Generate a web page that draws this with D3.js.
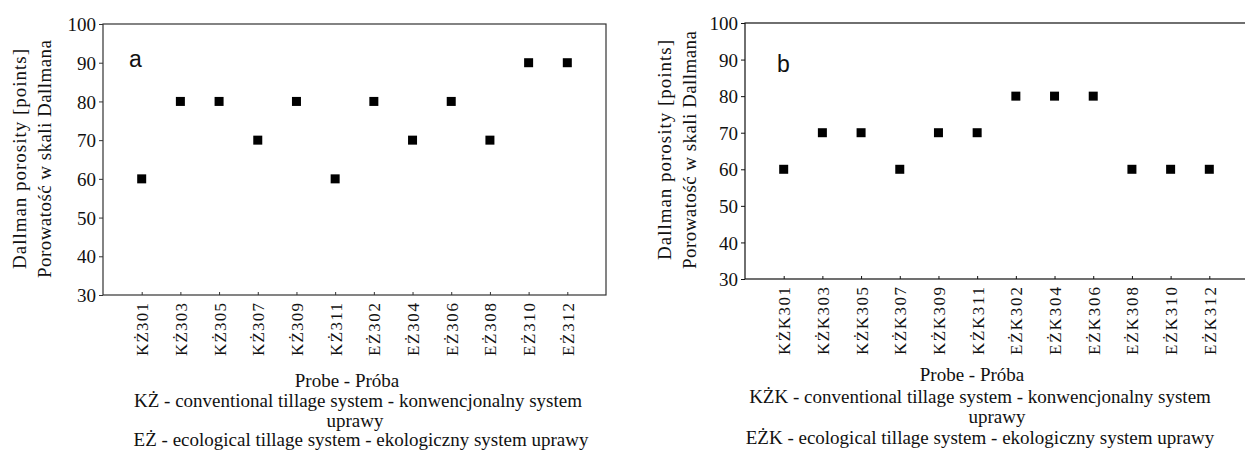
<!DOCTYPE html>
<html>
<head>
<meta charset="utf-8">
<script src="https://cdn.jsdelivr.net/npm/d3@7.9.0/dist/d3.min.js"></script>
<style>
  body { margin: 0; background: #fff; }
  svg { display: block; }
</style>
</head>
<body>
<svg id="chart" width="1245" height="464"></svg>
<script>
// samples for panel a and b
const samplesA = ['KŻ301', 'KŻ303', 'KŻ305', 'KŻ307', 'KŻ309', 'KŻ311', 'EŻ302', 'EŻ304', 'EŻ306', 'EŻ308', 'EŻ310', 'EŻ312'];
const valuesA = [60, 80, 80, 70, 80, 60, 80, 70, 80, 70, 90, 90];
const samplesB = ['KŻK301', 'KŻK303', 'KŻK305', 'KŻK307', 'KŻK309', 'KŻK311', 'EŻK302', 'EŻK304', 'EŻK306', 'EŻK308', 'EŻK310', 'EŻK312'];
const valuesB = [60, 70, 70, 60, 70, 70, 80, 80, 80, 60, 60, 60];
const yTicks = [30, 40, 50, 60, 70, 80, 90, 100];
const yTitle = ['Dallman porosity [points]', 'Porowatość w skali Dallmana'];
const captionA = ['Probe - Próba', 'KŻ - conventional tillage system - konwencjonalny system', 'uprawy', 'EŻ - ecological tillage system - ekologiczny system uprawy'];
const captionB = ['Probe - Próba', 'KŻK - conventional tillage system - konwencjonalny system', 'uprawy', 'EŻK - ecological tillage system - ekologiczny system uprawy'];

const SERIF = 'Liberation Serif, Times New Roman, serif';
const svg = d3.select('#chart');

function panel(opt) {
  const g = svg.append('g');
  const x = d3.scaleLinear().domain([0, opt.samples.length + 1]).range([opt.left, opt.right]);
  const y = d3.scaleLinear().domain([30, 100]).range([opt.bottom, opt.top]);

  // frame
  g.append('rect')
    .attr('x', opt.left).attr('y', opt.top)
    .attr('width', opt.right - opt.left).attr('height', opt.bottom - opt.top)
    .attr('fill', 'none').attr('stroke', opt.frame).attr('stroke-width', 1.2);

  // y axis
  const yAxis = g.append('g')
    .attr('transform', `translate(${opt.left},0)`)
    .call(d3.axisLeft(y).tickValues(yTicks).tickSize(4).tickPadding(3));
  yAxis.attr('font-family', SERIF).attr('font-size', 19);
  yAxis.select('.domain').remove();
  yAxis.selectAll('line').attr('stroke', opt.frame);
  yAxis.selectAll('text').attr('fill', '#111').attr('dy', '0.35em');

  // x axis, ticks point inward
  const xAxis = g.append('g')
    .attr('transform', `translate(0,${opt.bottom})`)
    .call(d3.axisBottom(x).tickValues(d3.range(1, opt.samples.length + 1))
      .tickSize(-3).tickFormat(i => opt.samples[i - 1]));
  xAxis.attr('font-family', SERIF).attr('font-size', 17);
  xAxis.select('.domain').remove();
  xAxis.selectAll('line').attr('stroke', opt.frame);
  xAxis.selectAll('text')
    .attr('fill', '#111')
    .attr('text-anchor', 'end')
    .attr('transform', 'rotate(-90)')
    .attr('x', -opt.labelGap).attr('y', 0).attr('dy', '0.35em')
    .attr('textLength', opt.tickLen).attr('lengthAdjust', 'spacing');

  // points
  const s = 9;
  g.selectAll('rect.pt').data(opt.values).join('rect')
    .attr('class', 'pt')
    .attr('x', (d, i) => x(i + 1) - s / 2)
    .attr('y', d => y(d) - s / 2)
    .attr('width', s).attr('height', s)
    .attr('fill', '#000');

  // panel letter
  g.append('text')
    .attr('x', opt.letterX).attr('y', opt.letterY)
    .attr('font-family', 'Liberation Sans, Arial, sans-serif')
    .attr('font-size', 23).attr('fill', '#111')
    .text(opt.letter);

  // y title, two lines
  yTitle.forEach((t, k) => {
    g.append('text')
      .attr('transform', `translate(${opt.titleX + k * 25},${opt.titleY}) rotate(-90)`)
      .attr('text-anchor', 'middle')
      .attr('font-family', SERIF).attr('font-size', 19).attr('fill', '#111')
      .attr('textLength', opt.titleLen[k]).attr('lengthAdjust', 'spacing')
      .text(t);
  });

  // caption
  opt.caption.forEach((t, k) => {
    g.append('text')
      .attr('x', opt.capX[k]).attr('y', opt.capY[k])
      .attr('text-anchor', 'middle')
      .attr('font-family', SERIF).attr('font-size', 19).attr('fill', '#111')
      .text(t);
  });
}

panel({
  samples: samplesA, values: valuesA, letter: 'a',
  left: 103, right: 606, top: 24, bottom: 295, frame: '#333',
  labelGap: 8, tickLen: 53, letterX: 129, letterY: 67,
  titleX: 26, titleY: 159, titleLen: [220, 238],
  caption: captionA, capX: [347, 358, 355, 361], capY: [387, 407, 427, 446]
});

panel({
  samples: samplesB, values: valuesB, letter: 'b',
  left: 745, right: 1248, top: 23, bottom: 279, frame: '#111',
  labelGap: 8, tickLen: 68, letterX: 777, letterY: 72,
  titleX: 671, titleY: 150, titleLen: [220, 238],
  caption: captionB, capX: [972, 980, 997, 980], capY: [381, 403, 423, 444]
});
</script>
</body>
</html>
